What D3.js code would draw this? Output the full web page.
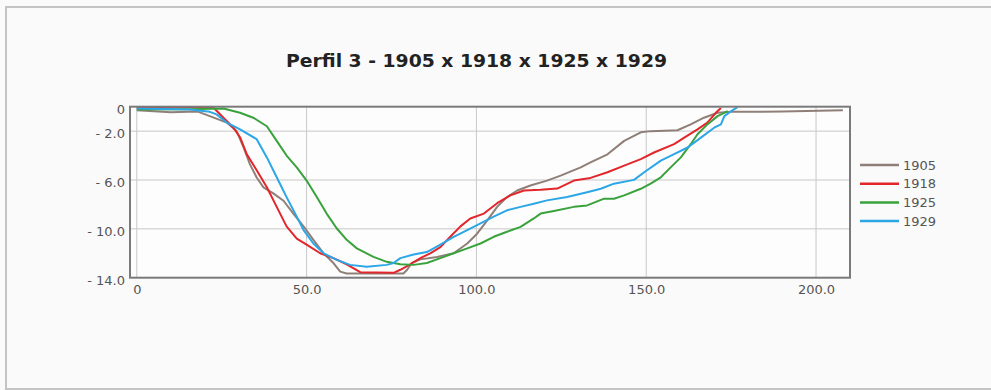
<!DOCTYPE html>
<html>
<head>
<meta charset="utf-8">
<script src="https://d3js.org/d3.v7.min.js"></script>
<style>
  body { margin: 0; background: #fafafa; }
  svg { display: block; }
</style>
</head>
<body>
<div id="chart"></div>
<script>

// Perfil 3 - distance (m) x depth (m), one survey per year
const years = ['1905', '1918', '1925', '1929'];
const colors = ['#8f7f78', '#e3262b', '#3aa23d', '#2ba6e6'];

const x1905 = [0, 10, 18, 21.5, 26.5, 29.4, 31.4, 33.3, 35.3, 37.3, 40.2, 43.2, 46.1, 49.1, 52, 55, 57.9, 59.9, 61.8, 70, 78.5, 79.6, 81, 83.5, 88.4, 93.3, 97.3, 100.2, 103.2, 106.1, 109, 112, 115.9, 120.8, 124.8, 130.7, 133.6, 138.6, 143.5, 148.4, 151.3, 159.2, 163.1, 167, 171, 175, 190, 207.9];
const y1905 = [-0.3, -0.45, -0.4, -0.77, -1.3, -2.0, -3.3, -4.7, -5.8, -6.6, -7.1, -7.7, -8.75, -9.8, -10.9, -12.0, -12.8, -13.5, -13.65, -13.65, -13.65, -13.35, -12.8, -12.5, -12.3, -12.0, -11.2, -10.4, -9.3, -8.2, -7.4, -6.86, -6.45, -6.05, -5.64, -4.97, -4.56, -3.9, -2.8, -2.1, -2.0, -1.93, -1.45, -0.9, -0.5, -0.42, -0.4, -0.3];

const x1918 = [0, 10, 22.5, 25.5, 28.4, 30.4, 32.4, 35.3, 38.3, 41.2, 44.1, 47.1, 50, 54, 57.9, 61.8, 65.8, 75.6, 77.6, 80.5, 83.5, 86.4, 89.4, 92.3, 95.3, 98.2, 102.2, 106.1, 110, 114, 118.9, 123.8, 128.7, 133.6, 138.6, 143.5, 148.4, 152.3, 158.2, 161.2, 165.1, 168, 170.5, 172];
const y1918 = [-0.1, -0.05, -0.05, -0.9, -1.7, -2.5, -3.9, -5.2, -6.6, -8.2, -9.8, -10.8, -11.3, -12.0, -12.4, -12.9, -13.55, -13.6, -13.35, -12.9, -12.4, -12.0, -11.5, -10.65, -9.8, -9.15, -8.75, -7.9, -7.26, -6.86, -6.8, -6.7, -6.05, -5.83, -5.37, -4.83, -4.29, -3.75, -3.07, -2.53, -1.85, -1.31, -0.5, -0.1];

const x1925 = [0, 15, 25.5, 30.4, 34.3, 38.3, 41.2, 44.1, 47.1, 50, 53, 55.9, 58.9, 61.8, 64.8, 69.7, 73.6, 77.6, 81.5, 85.4, 89.4, 93.3, 97.3, 101.2, 105.1, 109, 113, 116.9, 118.9, 122.8, 128.7, 132.6, 137.6, 140.5, 143.5, 148.4, 151.3, 154.3, 157.2, 160.2, 163.1, 165.1, 168, 171, 174];
const y1925 = [-0.23, -0.2, -0.15, -0.5, -0.9, -1.6, -2.8, -4.0, -4.97, -6.05, -7.4, -8.75, -9.97, -10.9, -11.6, -12.3, -12.7, -12.9, -12.95, -12.8, -12.4, -12.0, -11.6, -11.2, -10.65, -10.24, -9.84, -9.15, -8.75, -8.54, -8.2, -8.08, -7.53, -7.53, -7.26, -6.72, -6.3, -5.78, -4.97, -4.15, -3.07, -2.26, -1.45, -0.77, -0.37];

const x1929 = [0, 15.6, 21.5, 23.5, 26.5, 30.4, 35.3, 38.3, 41.2, 44.1, 47.1, 49.1, 52, 55, 58.9, 62.8, 67.7, 73.6, 75.6, 77.6, 81.5, 85.4, 89.4, 93.3, 97.3, 101.2, 105.1, 109, 113, 116.9, 120.8, 126.7, 132.6, 136.6, 140.5, 146.4, 149.4, 154.3, 158.2, 162.2, 166.1, 170, 172, 173, 175, 176.9];
const y1929 = [-0.15, -0.23, -0.42, -0.63, -1.3, -1.85, -2.66, -4.15, -5.78, -7.4, -9.0, -10.1, -11.2, -12.0, -12.54, -12.95, -13.1, -12.95, -12.8, -12.4, -12.1, -11.9, -11.3, -10.65, -10.1, -9.56, -9.0, -8.48, -8.2, -7.94, -7.67, -7.4, -7.0, -6.72, -6.3, -5.99, -5.37, -4.42, -3.88, -3.34, -2.53, -1.72, -1.45, -0.77, -0.37, -0.04];

const xTicks = [0, 50, 100, 150, 200];
const xTickLabels = ['0', '50.0', '100.0', '150.0', '200.0'];
const yTicks = [0, -2, -6, -10, -14];
const yTickLabels = ['0', '- 2.0', '- 6.0', '- 10.0', '- 14.0'];

const seriesX = [x1905, x1918, x1925, x1929];
const seriesY = [y1905, y1918, y1925, y1929];

class ProfileChart {

	constructor(selector){
		this.width = 991;
		this.height = 390;

		this.svg = d3.select(selector).append('svg')
		.attr('width', this.width)
		.attr('height', this.height)
		.style('font-family', '"DejaVu Sans", sans-serif');

		this.scaleX = d3.scaleLinear().domain([-2, 210]).range([130, 850]);
		this.scaleY = d3.scaleLinear().domain([0, -14]).range([106.7, 277.7]);
	}

	create(){
		const svg = this.svg;
		const x = this.scaleX, y = this.scaleY;

		// page frame
		svg.append('rect')
		.attr('x', 6).attr('y', 7)
		.attr('width', this.width).attr('height', 382)
		.attr('fill', '#fafafa')
		.attr('stroke', '#c4c4c4')
		.attr('stroke-width', 2);

		svg.append('text')
		.attr('x', 476.5)
		.attr('y', 67)
		.attr('text-anchor', 'middle')
		.attr('textLength', 381)
		.attr('lengthAdjust', 'spacingAndGlyphs')
		.style('font-size', '18px')
		.style('font-weight', 'bold')
		.style('fill', '#222')
		.text('Perfil 3 - 1905 x 1918 x 1925 x 1929');

		// plot background
		svg.append('rect')
		.attr('x', x(-2)).attr('y', y(0))
		.attr('width', x(210) - x(-2)).attr('height', y(-14) - y(0))
		.attr('fill', '#fdfdfd');

		// grid
		svg.append('g')
		.selectAll('line')
		.data(xTicks)
		.join('line')
		.attr('x1', d => x(d)).attr('x2', d => x(d))
		.attr('y1', y(0)).attr('y2', y(-14))
		.attr('stroke', '#c8c8c8')
		.attr('stroke-width', 1);

		svg.append('g')
		.selectAll('line')
		.data([-2, -6, -10])
		.join('line')
		.attr('x1', x(-2)).attr('x2', x(210))
		.attr('y1', d => y(d)).attr('y2', d => y(d))
		.attr('stroke', '#c8c8c8')
		.attr('stroke-width', 1);

		// axes (labels only)
		const axisX = svg.append('g')
		.attr('transform', `translate(0,${y(-14)})`)
		.call(d3.axisBottom(x).tickValues(xTicks).tickSize(0).tickPadding(7)
			.tickFormat((d, i) => xTickLabels[i]));

		const axisY = svg.append('g')
		.attr('transform', `translate(${x(-2)},0)`)
		.call(d3.axisLeft(y).tickValues(yTicks).tickSize(0).tickPadding(5)
			.tickFormat((d, i) => yTickLabels[i]));

		[axisX, axisY].forEach(a => {
			a.select('.domain').remove();
			a.selectAll('text')
			.style('font-size', '13px')
			.style('font-family', '"DejaVu Sans", sans-serif')
			.style('fill', '#555');
		});
		axisY.selectAll('text').attr('dy', '0.5em');

		// lines
		const line = d3.line()
		.x(d => x(d[0]))
		.y(d => y(d[1]));

		years.forEach((yr, k) => {
			const pts = seriesX[k].map((v, i) => [v, seriesY[k][i]]);
			svg.append('path')
			.datum(pts)
			.attr('fill', 'none')
			.attr('stroke', colors[k])
			.attr('stroke-width', 2)
			.attr('stroke-linejoin', 'round')
			.attr('d', line);
		});

		// plot frame
		svg.append('rect')
		.attr('x', x(-2)).attr('y', y(0))
		.attr('width', x(210) - x(-2)).attr('height', y(-14) - y(0))
		.attr('fill', 'none')
		.attr('stroke', '#7a7a7a')
		.attr('stroke-width', 2);

		// legend
		const legend = svg.selectAll('.legend')
		.data(years)
		.join('g')
		.attr('class', 'legend')
		.attr('transform', (d, i) => `translate(860,${165 + i * 18.7})`);

		legend.append('line')
		.attr('x1', 0).attr('x2', 39)
		.attr('stroke', (d, i) => colors[i])
		.attr('stroke-width', 2.5);

		legend.append('text')
		.attr('x', 43)
		.attr('dy', '0.36em')
		.style('font-size', '13px')
		.style('fill', '#555')
		.text(d => d);
	}
}

const chart = new ProfileChart('#chart');
chart.create();
</script>
</body>
</html>
